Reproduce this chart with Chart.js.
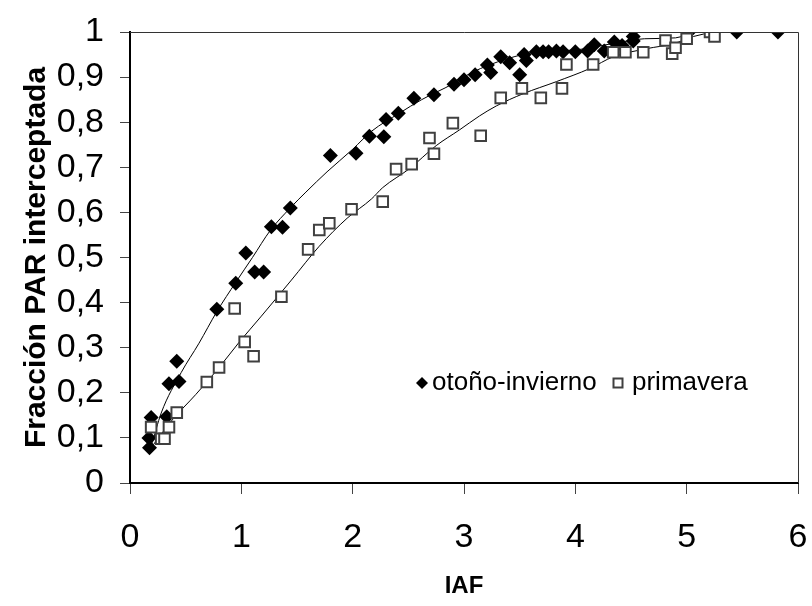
<!DOCTYPE html>
<html>
<head>
<meta charset="utf-8">
<script src="https://cdn.jsdelivr.net/npm/chart.js@4"></script>
<style>
  html, body { margin: 0; padding: 0; background: #fff; }
  #wrap { width: 812px; height: 606px; }
</style>
</head>
<body>
<div id="wrap"><canvas id="parChart" width="812" height="606"></canvas></div>
<script>
// otoño-invierno (diamantes)
const otonoX = [0.17, 0.175, 0.19, 0.33, 0.35, 0.44, 0.42, 0.78, 0.95, 1.04, 1.12, 1.20, 1.27, 1.37, 1.44,
    1.80, 2.03, 2.15, 2.28, 2.30, 2.41, 2.55, 2.73, 2.91, 3.00, 3.10, 3.21, 3.24, 3.33, 3.41, 3.50,
    3.54, 3.56, 3.65, 3.71, 3.76, 3.83, 3.89, 4.00, 4.11, 4.17, 4.26, 4.35, 4.42, 4.52, 4.52, 5.02, 5.45, 5.82];
const otonoY = [0.10, 0.078, 0.145, 0.147, 0.22, 0.225, 0.27, 0.385, 0.443, 0.51, 0.468, 0.468, 0.568, 0.567, 0.61,
    0.726, 0.731, 0.769, 0.768, 0.806, 0.82, 0.853, 0.861, 0.884, 0.894, 0.905, 0.927, 0.91, 0.945, 0.932, 0.905,
    0.95, 0.937, 0.956, 0.956, 0.956, 0.958, 0.956, 0.956, 0.958, 0.972, 0.958, 0.978, 0.97, 0.99, 0.98, 1.0, 1.0, 1.0];

// primavera (cuadrados)
const primX = [0.19, 0.28, 0.31, 0.35, 0.42, 0.69, 0.80, 0.94, 1.03, 1.11, 1.36, 1.60, 1.70, 1.79, 1.99, 2.27,
    2.39, 2.53, 2.69, 2.73, 2.90, 3.15, 3.33, 3.52, 3.69, 3.88, 3.92, 4.16, 4.34, 4.45, 4.61, 4.81, 4.87, 4.90,
    5.00, 5.21, 5.25];
const primY = [0.124, 0.098, 0.098, 0.124, 0.156, 0.224, 0.256, 0.387, 0.313, 0.281, 0.413, 0.518, 0.561, 0.576, 0.607, 0.624,
    0.696, 0.707, 0.765, 0.73, 0.798, 0.77, 0.854, 0.875, 0.854, 0.875, 0.928, 0.928, 0.955, 0.955, 0.955, 0.981, 0.952, 0.965,
    0.985, 1.0, 0.99];

// curvas ajustadas
const fitOtonoX = [0.19, 0.28, 0.46, 0.62, 0.78, 0.95, 1.10, 1.26, 1.44, 1.58, 1.77, 2.00, 2.17, 2.42, 2.62, 2.90,
    3.07, 3.38, 3.69, 3.99, 4.35, 4.62, 4.90, 5.10, 5.84];
const fitOtonoY = [0.08, 0.155, 0.245, 0.31, 0.38, 0.445, 0.50, 0.56, 0.61, 0.645, 0.69, 0.74, 0.78, 0.82, 0.85, 0.885,
    0.91, 0.94, 0.957, 0.96, 0.975, 0.985, 0.987, 1.0, 1.0];
const fitPrimX = [0.21, 0.38, 0.59, 0.80, 0.98, 1.18, 1.45, 1.70, 1.95, 2.17, 2.27, 2.51, 2.75, 2.96, 3.14, 3.29,
    3.53, 3.83, 4.13, 4.34, 4.64, 4.88, 5.06, 5.24];
const fitPrimY = [0.085, 0.14, 0.196, 0.256, 0.312, 0.37, 0.45, 0.525, 0.587, 0.63, 0.655, 0.697, 0.748, 0.783, 0.814, 0.836,
    0.863, 0.89, 0.919, 0.945, 0.963, 0.974, 0.99, 1.0];

const xTicks = [0, 1, 2, 3, 4, 5, 6];
const yTicks = [0, 0.1, 0.2, 0.3, 0.4, 0.5, 0.6, 0.7, 0.8, 0.9, 1];
const seriesNames = ["otoño-invierno", "primavera"];

const FONT = "'Liberation Sans', Arial, sans-serif";

function toPoints(xs, ys) {
    return xs.map((x, i) => ({ x: x, y: ys[i] }));
}

function fmtTick(v) {
    if (v === 0 || v === 1) return String(v);
    return v.toFixed(1).replace(".", ",");
}

// marco superior/derecho y leyenda dentro del área
const framePlugin = {
    id: "frame",
    afterDatasetsDraw(chart) {
        const ctx = chart.ctx;
        const a = chart.chartArea;
        ctx.save();
        ctx.strokeStyle = "#333";
        ctx.lineWidth = 1;
        ctx.beginPath();
        ctx.moveTo(a.left, a.top + 0.5);
        ctx.lineTo(a.right + 0.5, a.top + 0.5);
        ctx.lineTo(a.right + 0.5, a.bottom);
        ctx.stroke();

        // leyenda
        const ly = a.top + 351;
        const dx = a.left + 292;
        ctx.fillStyle = "#000";
        ctx.beginPath();
        ctx.moveTo(dx - 6, ly);
        ctx.lineTo(dx, ly - 6);
        ctx.lineTo(dx + 6, ly);
        ctx.lineTo(dx, ly + 6);
        ctx.closePath();
        ctx.fill();

        ctx.font = "26px " + FONT;
        ctx.textBaseline = "middle";
        ctx.textAlign = "left";
        ctx.fillText(seriesNames[0], dx + 10, ly);

        const sx = a.left + 488;
        ctx.strokeStyle = "#404040";
        ctx.lineWidth = 2;
        ctx.strokeRect(sx - 4.5, ly - 4.5, 9, 9);
        ctx.fillText(seriesNames[1], sx + 14, ly);
        ctx.restore();
    }
};

const ctx = document.getElementById("parChart").getContext("2d");
new Chart(ctx, {
    type: "scatter",
    data: {
        datasets: [
            {
                label: seriesNames[1],
                data: toPoints(primX, primY),
                pointStyle: "rect",
                pointRadius: 7.5,
                pointBackgroundColor: "#fff",
                pointBorderColor: "#404040",
                pointBorderWidth: 2,
                order: 0
            },
            {
                label: seriesNames[0],
                data: toPoints(otonoX, otonoY),
                pointStyle: "rectRot",
                pointRadius: 7.5,
                pointBackgroundColor: "#000",
                pointBorderColor: "#000",
                pointBorderWidth: 0,
                order: 1
            },
            {
                label: "ajuste otoño",
                data: toPoints(fitOtonoX, fitOtonoY),
                showLine: true,
                borderColor: "#000",
                borderWidth: 1,
                pointRadius: 0,
                cubicInterpolationMode: "monotone",
                order: 2
            },
            {
                label: "ajuste primavera",
                data: toPoints(fitPrimX, fitPrimY),
                showLine: true,
                borderColor: "#000",
                borderWidth: 1,
                pointRadius: 0,
                cubicInterpolationMode: "monotone",
                order: 2
            }
        ]
    },
    options: {
        responsive: false,
        animation: false,
        layout: { padding: { left: 0, right: 14, top: 32, bottom: 0 } },
        plugins: {
            legend: { display: false },
            tooltip: { enabled: false }
        },
        scales: {
            x: {
                type: "linear",
                min: 0,
                max: 6,
                afterBuildTicks: (s) => { s.ticks = xTicks.map(v => ({ value: v })); },
                afterFit: (s) => { s.height = 123; s.paddingRight = 0; s.paddingLeft = 0; },
                ticks: { color: "#000", font: { family: FONT, size: 34 }, padding: 23, maxRotation: 0 },
                grid: { drawOnChartArea: false, drawTicks: true, tickLength: 11, color: "#444", tickWidth: 1 },
                border: { display: true, color: "#000", width: 2 },
                title: {
                    display: true,
                    text: "IAF",
                    color: "#000",
                    font: { family: FONT, size: 24, weight: "bold" },
                    padding: { top: 0, bottom: 5 }
                }
            },
            y: {
                type: "linear",
                min: 0,
                max: 1,
                afterBuildTicks: (s) => { s.ticks = yTicks.map(v => ({ value: v })); },
                afterFit: (s) => { s.width = 130; s.paddingTop = 0; s.paddingBottom = 0; },
                ticks: { color: "#000", font: { family: FONT, size: 34 }, padding: 16, callback: fmtTick },
                grid: { drawOnChartArea: false, drawTicks: true, tickLength: 10, color: "#444", tickWidth: 1 },
                border: { display: true, color: "#000", width: 2 },
                title: {
                    display: true,
                    text: "Fracción PAR interceptada",
                    color: "#000",
                    font: { family: FONT, size: 30, weight: "bold" },
                    padding: { top: 19, bottom: 0 }
                }
            }
        }
    },
    plugins: [framePlugin]
});
</script>
</body>
</html>
